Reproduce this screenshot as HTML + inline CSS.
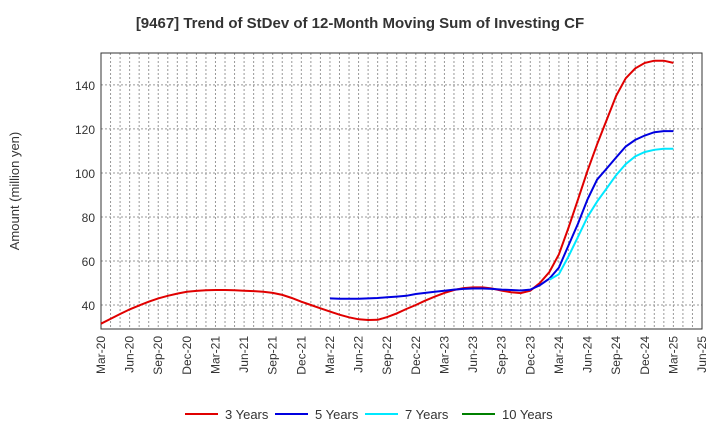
<!DOCTYPE html>
<html><head><meta charset="utf-8"><style>
body{margin:0;background:#fff;font-family:"Liberation Sans",sans-serif;}
</style></head><body>
<svg id="c" width="720" height="440" xmlns="http://www.w3.org/2000/svg">
<text x="360" y="28" text-anchor="middle" font-size="15" font-weight="bold" fill="#333">[9467]  Trend of StDev of 12-Month Moving Sum of Investing CF</text>
<text transform="translate(19,191) rotate(-90)" text-anchor="middle" font-size="13" fill="#333">Amount (million yen)</text>
</svg>
<script>
const xLabels=["Mar-20","Jun-20","Sep-20","Dec-20","Mar-21","Jun-21","Sep-21","Dec-21","Mar-22","Jun-22","Sep-22","Dec-22","Mar-23","Jun-23","Sep-23","Dec-23","Mar-24","Jun-24","Sep-24","Dec-24","Mar-25","Jun-25"];
const yTicks=[40,60,80,100,120,140];
const s3=[31.5,33.7,35.9,38,39.8,41.5,43,44.2,45.2,46,46.4,46.7,46.8,46.8,46.7,46.5,46.3,46,45.5,44.6,43.2,41.5,40,38.5,37,35.6,34.4,33.5,33.2,33.3,34.5,36.2,38.2,40,42,43.8,45.5,46.8,47.7,48,48,47.5,46.5,45.8,45.4,46.5,50,55,63,75,88,101,113,124,135,143,147.5,150,151,151,150];
const s5=Array(24).fill(null).concat([43,42.8,42.8,42.8,43,43.2,43.5,43.8,44.2,45,45.5,46,46.5,47,47.3,47.5,47.5,47.3,47,46.8,46.6,47,49,52,57,67,77,88,97,102,107,112,115,117,118.5,119,119]);
const s7=Array(47).fill(null).concat([51.5,54,62,71,80,87,93,99,104,107.5,109.5,110.5,111,111]);
const s10=[];
const series=[{name:"3 Years",color:"#e00000",data:s3},{name:"5 Years",color:"#0000e0",data:s5},{name:"7 Years",color:"#00e8ff",data:s7},{name:"10 Years",color:"#008000",data:s10}];
const L=101,R=702,T=53,B=329,ymin=29.1,ymax=154.5;
const xm=i=>L+(R-L)*i/63;
const y=v=>B-(v-ymin)/(ymax-ymin)*(B-T);
const svg=document.getElementById('c');const NS="http://www.w3.org/2000/svg";
function mk(t,a){const e=document.createElementNS(NS,t);for(const k in a)e.setAttribute(k,a[k]);svg.appendChild(e);return e;}
for(let i=1;i<63;i++){const g=mk('line',{x1:xm(i),x2:xm(i),y1:T,y2:B,stroke:'#999','stroke-dasharray':'2,2','stroke-width':1});

}
yTicks.forEach(v=>{const g=mk('line',{x1:L,x2:R,y1:y(v),y2:y(v),stroke:'#999','stroke-dasharray':'2,2'});


const t=mk('text',{x:L-6,y:y(v)+5,'text-anchor':'end','font-size':12,fill:'#333'});t.textContent=v;

});
xLabels.forEach((lb,i)=>{const xx=xm(i*3);const t=mk('text',{transform:`translate(${xx+4},${B+7}) rotate(-90)`,'text-anchor':'end','font-size':12,fill:'#333'});t.textContent=lb;

});
const fr=mk('rect',{x:L,y:T,width:R-L,height:B-T,fill:'none',stroke:'#333'});


series.forEach(s=>{let d='';let pen=false;s.data.forEach((v,i)=>{if(v==null){pen=false;return;}d+=(pen?'L':'M')+xm(i).toFixed(1)+','+y(v).toFixed(1);pen=true;});
if(d){const p=mk('path',{d:d,fill:'none',stroke:s.color,'stroke-width':2});

}});
const lx=[185,275,365,462];
series.forEach((s,i)=>{const l=mk('line',{x1:lx[i],x2:lx[i]+33,y1:414,y2:414,stroke:s.color,'stroke-width':2});


const t=mk('text',{x:lx[i]+40,y:419,'font-size':13,fill:'#333'});t.textContent=s.name;

});
</script>
</body></html>
